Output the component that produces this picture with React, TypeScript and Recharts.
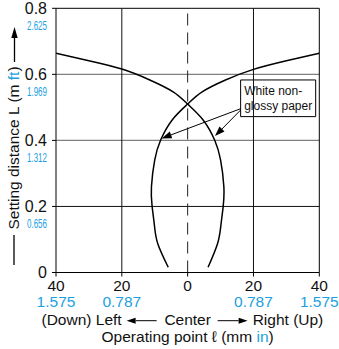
import React from 'react'
import { LineChart, Line, XAxis, YAxis, ReferenceLine, ReferenceArea } from 'recharts'

const FONT = '"Liberation Sans", Arial, Helvetica, sans-serif'
const BLUE = '#1ba1e2'

// operating point (mm) — ticks, mm labels, inch labels
const xTicks = [-40, -20, 0, 20, 40]
const xTickMm = ['40', '20', '0', '20', '40']
const xTickIn = ['1.575', '0.787', '', '0.787', '1.575']

// setting distance (m) — ticks, m labels, ft labels
const yTicks = [0, 0.2, 0.4, 0.6, 0.8]
const yTickM = ['0', '0.2', '0.4', '0.6', '0.8']
const yTickFt = ['', '0.656', '1.312', '1.969', '2.625']

// curve starting at the upper left, ending right of centre
const curveAX = [-40, -30, -20, -11.5, -4.4, 0, 4.7, 8.2, 10.0, 11.0, 10.8, 10.1, 9.1, 6.2]
const curveAY = [0.664, 0.641, 0.616, 0.583, 0.547, 0.51, 0.462, 0.401, 0.341, 0.26, 0.2, 0.143, 0.088, 0.016]
// curve starting at the upper right, ending left of centre
const curveBX = [40, 30, 20, 11.5, 4.4, 0, -4.7, -8.2, -10.0, -11.0, -10.8, -10.1, -9.1, -5.9]
const curveBY = [0.664, 0.641, 0.615, 0.583, 0.547, 0.51, 0.462, 0.401, 0.341, 0.26, 0.2, 0.143, 0.088, 0.016]

// annotation box + arrows
const noteLines = ['White non-', 'glossy paper']
const noteBoxX = [16.1, 38.9]
const noteBoxY = [0.472, 0.583]
const arrowFrom = [{ x: 16.1, y: 0.496 }, { x: 16.1, y: 0.492 }]
const arrowTo = [{ x: -7.9, y: 0.406 }, { x: 8.3, y: 0.413 }]

const toPoints = (xs: number[], ys: number[]) => xs.map((x, i) => ({ x, y: ys[i] }))

function arrowHead(x1: number, y1: number, x2: number, y2: number, len = 10, half = 3.5) {
  const a = Math.atan2(y2 - y1, x2 - x1)
  const bx = x2 - len * Math.cos(a)
  const by = y2 - len * Math.sin(a)
  const s = Math.sin(a)
  const c = Math.cos(a)
  return {
    bx,
    by,
    points: `${x2},${y2} ${bx + half * s},${by - half * c} ${bx - half * s},${by + half * c}`,
  }
}

const ArrowShape = (p: any) => {
  const { x1, y1, x2, y2 } = p
  const h = arrowHead(x1, y1, x2, y2)
  return (
    <g>
      <line x1={x1} y1={y1} x2={h.bx} y2={h.by} stroke="#000" strokeWidth={1} />
      <polygon points={h.points} fill="#000" />
    </g>
  )
}

const XTick = (p: any) => {
  const { x, y, index } = p
  return (
    <g fontFamily={FONT}>
      <text x={x} y={y + 12.5} textAnchor="middle" fontSize={15.5} fill="#111">{xTickMm[index]}</text>
      {xTickIn[index] && (
        <text x={x} y={y + 28.5} textAnchor="middle" fontSize={15.5} fill={BLUE}>{xTickIn[index]}</text>
      )}
    </g>
  )
}

const YTick = (p: any) => {
  const { x, y, index } = p
  return (
    <g fontFamily={FONT}>
      <text x={x - 3} y={y + 5.5} textAnchor="end" fontSize={16} fill="#111">{yTickM[index]}</text>
      {yTickFt[index] && (
        <text x={x - 3} y={y + 22} textAnchor="end" fontSize={13} fill={BLUE}
          textLength={20} lengthAdjust="spacingAndGlyphs">{yTickFt[index]}</text>
      )}
    </g>
  )
}

const XTitle = (p: any) => {
  const vb = p.viewBox
  const cx = vb.x + vb.width / 2
  const row1 = vb.y + 52.5
  const ay = vb.y + 48.2
  const la = arrowHead(cx - 31, ay, cx - 61, ay, 9, 3)
  const ra = arrowHead(cx + 30, ay, cx + 60, ay, 9, 3)
  return (
    <g fontFamily={FONT} fontSize={15.5} fill="#111">
      <text x={cx - 66} y={row1} textAnchor="end">(Down) Left</text>
      <line x1={cx - 31} y1={ay} x2={la.bx} y2={ay} stroke="#000" />
      <polygon points={la.points} fill="#000" />
      <text x={cx} y={row1} textAnchor="middle">Center</text>
      <line x1={cx + 30} y1={ay} x2={ra.bx} y2={ay} stroke="#000" />
      <polygon points={ra.points} fill="#000" />
      <text x={cx + 65} y={row1} textAnchor="start">Right (Up)</text>
      <text x={cx} y={vb.y + 69.5} textAnchor="middle">
        Operating point ℓ (mm <tspan fill={BLUE}>in</tspan>)
      </text>
    </g>
  )
}

const YTitle = (p: any) => {
  const vb = p.viewBox
  const cy = vb.y + 139.7
  const bx = 18.5
  const head = arrowHead(14.5, 62, 14.5, 27, 11, 3.2)
  return (
    <g fontFamily={FONT} fontSize={15.5} fill="#111">
      <text x={bx} y={cy} textAnchor="middle" transform={`rotate(-90, ${bx}, ${cy})`}>
        Setting distance L (m <tspan fill={BLUE}>ft</tspan>)
      </text>
      <line x1={14} y1={235} x2={14} y2={265} stroke="#000" strokeWidth={1.3} />
      <line x1={14.5} y1={62} x2={14.5} y2={head.by} stroke="#000" strokeWidth={1.3} />
      <polygon points={head.points} fill="#000" />
    </g>
  )
}

const NoteLabel = (p: any) => {
  const vb = p.viewBox
  return (
    <g fontFamily={FONT} fontSize={12} fill="#111">
      {noteLines.map((t, i) => (
        <text key={t} x={vb.x + 3.5} y={vb.y + 15 + i * 15}>{t}</text>
      ))}
    </g>
  )
}

export default function App() {
  return (
    <div style={{ position: 'absolute', left: 0, top: 0, background: '#fff' }}>
      <LineChart width={339} height={349} margin={{ top: 8.3, right: 19.7, bottom: 0, left: 0 }}>
        <XAxis
          type="number"
          dataKey="x"
          domain={[-40, 40]}
          ticks={xTicks}
          interval={0}
          height={76.5}
          tickSize={4}
          stroke="#000"
          tick={<XTick />}
          label={{ content: XTitle }}
          allowDataOverflow
        />
        <YAxis
          type="number"
          dataKey="y"
          domain={[0, 0.8]}
          ticks={yTicks}
          interval={0}
          width={56}
          tickSize={4}
          stroke="#000"
          tick={<YTick />}
          label={{ content: YTitle }}
          allowDataOverflow
        />

        {/* grid */}
        <ReferenceLine y={0.2} stroke="#111" />
        <ReferenceLine y={0.4} stroke="#808080" strokeWidth={1.3} />
        <ReferenceLine y={0.6} stroke="#808080" strokeWidth={1.3} />
        <ReferenceLine y={0.8} stroke="#000" />
        <ReferenceLine x={-20} stroke="#111" />
        <ReferenceLine x={20} stroke="#111" />
        <ReferenceLine x={40} stroke="#000" />
        <ReferenceLine x={0} stroke="#222" strokeDasharray="12 7" />

        <Line data={toPoints(curveAX, curveAY)} dataKey="y" type="natural" stroke="#000" strokeWidth={1.5}
          dot={false} activeDot={false} isAnimationActive={false} />
        <Line data={toPoints(curveBX, curveBY)} dataKey="y" type="natural" stroke="#000" strokeWidth={1.5}
          dot={false} activeDot={false} isAnimationActive={false} />

        <ReferenceArea x1={noteBoxX[0]} x2={noteBoxX[1]} y1={noteBoxY[0]} y2={noteBoxY[1]}
          fill="#fff" fillOpacity={1} stroke="#000" strokeWidth={1} label={{ content: NoteLabel }} />
        {arrowFrom.map((f, i) => (
          <ReferenceLine key={i} segment={[f, arrowTo[i]]} shape={ArrowShape} />
        ))}
      </LineChart>
    </div>
  )
}
